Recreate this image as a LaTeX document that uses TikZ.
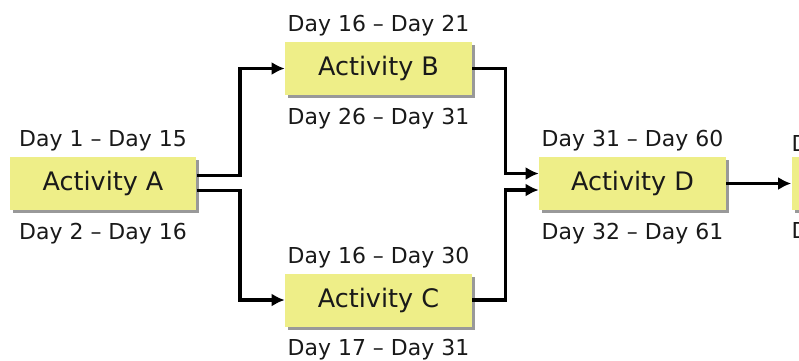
\documentclass[tikz,border=0pt]{standalone}
\usepackage{fontspec}
\setmainfont{DejaVu Sans}
\usepackage{xcolor}
\usepackage{tikz}
\usetikzlibrary{positioning, shadows, arrows.meta}
\definecolor{actfill}{RGB}{238,238,136}
\tikzset{activity/.style={fill=actfill, minimum width=3.74cm, minimum height=1.06cm,
        inner sep=0pt, text=black!90, font=\fontsize{14.5}{17}\selectfont,
        drop shadow={shadow xshift=0.06cm, shadow yshift=-0.06cm, fill=black!40, opacity=1}},
    days/.style={inner sep=0pt, text=black!90, font=\fontsize{12.5}{15}\selectfont},
    link/.style={draw, line width=2pt, -{Latex[length=0.26cm, width=0.26cm]}}}

\begin{document}
\begin{tikzpicture}[x=0.02cm, y=-0.02cm]
    \clip (0,0) rectangle (799,360);
    \node[activity] (A) at (103,183.5) {Activity A};
    \node[activity] (B) at (378.5,68.5) {Activity B};
    \node[activity] (C) at (378.5,300) {Activity C};
    \node[activity] (D) at (632.5,183.5) {Activity D};
    \node[activity] (E) at (885,183.5) {};
    % start and finish days
    \node[days, above=0.1cm of A] (A-start) {Day 1 -- Day 15};
    \node[days, below=0.24cm of A] (A-finish) {Day 2 -- Day 16};
    \node[days, above=0.1cm of B] (B-start) {Day 16 -- Day 21};
    \node[days, below=0.24cm of B] (B-finish) {Day 26 -- Day 31};
    \node[days, above=0.1cm of C] (C-start) {Day 16 -- Day 30};
    \node[days, below=0.24cm of C] (C-finish) {Day 17 -- Day 31};
    \node[days, above=0.1cm of D] (D-start) {Day 31 -- Day 60};
    \node[days, below=0.24cm of D] (D-finish) {Day 32 -- Day 61};
    \node[days, anchor=south west] (E-start) at ([yshift=0.1cm]E.north west) {D};
    \node[days, anchor=north west] (E-finish) at ([yshift=-0.24cm]E.south west) {D};
    % links
    \draw[link] ([yshift=0.16cm]A.east) -- ++(43,0) |- (B.west);
    \draw[link] ([yshift=-0.14cm]A.east) -- ++(43,0) |- (C.west);
    \draw[link] (B.east) -- ++(33,0) |- ([yshift=0.2cm]D.west);
    \draw[link] (C.east) -- ++(33,0) |- ([yshift=-0.13cm]D.west);
    \draw[link] (D.east) -- (E.west);
\end{tikzpicture}
\end{document}
